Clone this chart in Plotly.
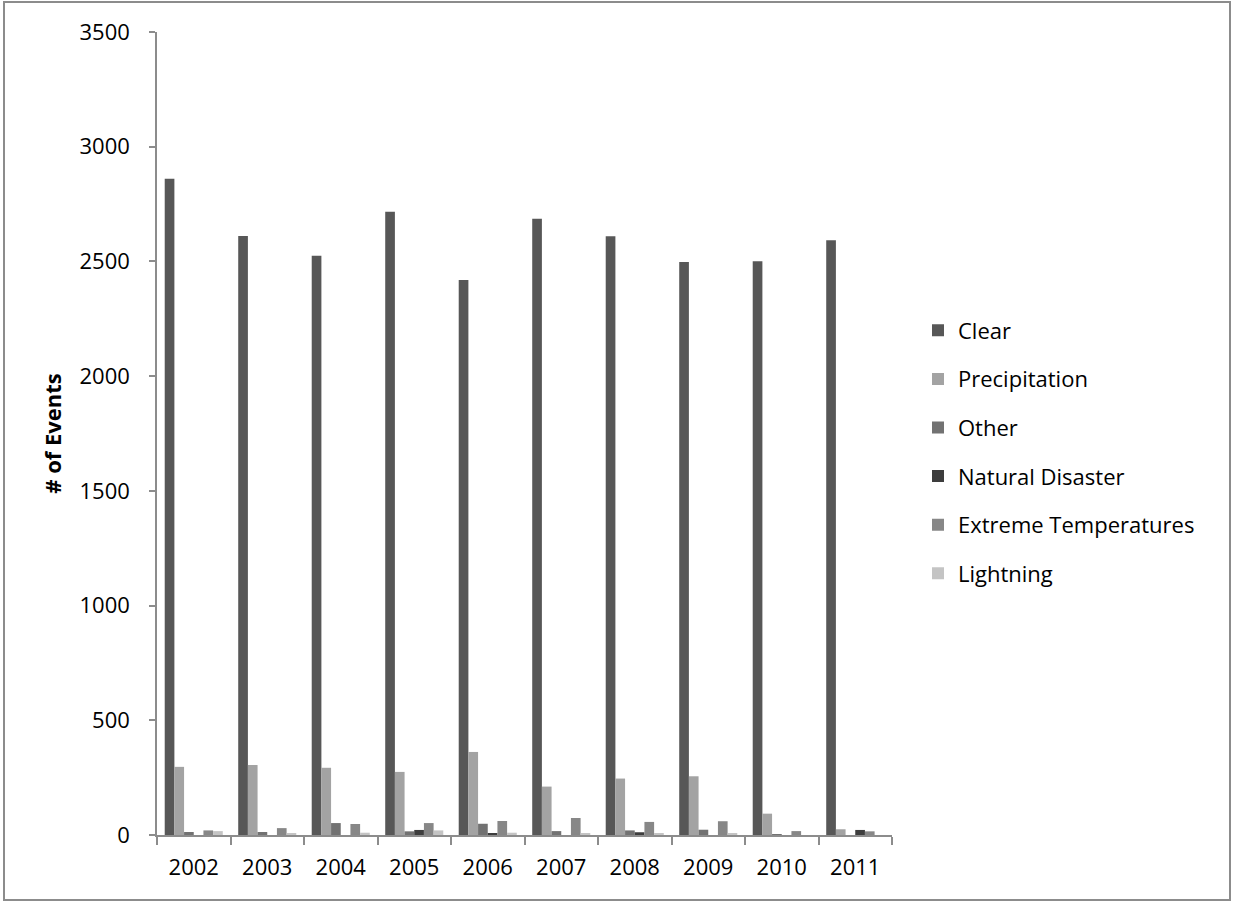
import plotly.graph_objects as go

years = ["2002", "2003", "2004", "2005", "2006", "2007", "2008", "2009", "2010", "2011"]

clear = [2860, 2611, 2525, 2717, 2419, 2686, 2610, 2497, 2501, 2592]
precipitation = [297, 305, 293, 275, 362, 211, 246, 256, 93, 25]
other = [13, 13, 52, 16, 49, 17, 20, 23, 2, 0]
natural_disaster = [0, 0, 0, 22, 7, 0, 12, 0, 0, 22]
extreme_temperatures = [20, 30, 48, 52, 61, 74, 57, 60, 17, 16]
lightning = [17, 7, 10, 20, 10, 8, 6, 6, 0, 0]

series = [
    ("Clear", clear, "#575757"),
    ("Precipitation", precipitation, "#a3a3a3"),
    ("Other", other, "#727272"),
    ("Natural Disaster", natural_disaster, "#3d3d3d"),
    ("Extreme Temperatures", extreme_temperatures, "#878787"),
    ("Lightning", lightning, "#c4c4c4"),
]

FONT = "Open Sans, Calibri, sans-serif"
FS = 22

fig = go.Figure()
for i, (name, vals, color) in enumerate(series):
    fig.add_trace(go.Bar(
        x=years, y=vals, name=name, legendgroup=str(i),
        marker=dict(color=color, line=dict(width=0)),
    ))

W, H = 1235, 902
L, R, T, B = 157, 892, 32, 835

fig.update_layout(
    width=W, height=H,
    margin=dict(l=L, r=W - R, t=T, b=H - B),
    paper_bgcolor="white", plot_bgcolor="white",
    barmode="group", bargap=0.21, bargroupgap=0,
    font=dict(family=FONT, size=FS, color="#000000"),
    showlegend=True,
    legend=dict(
        x=(918 - L) / (R - L), y=(B - 452) / (B - T),
        xanchor="left", yanchor="middle",
        font=dict(family=FONT, size=FS, color="#000000"),
        traceorder="grouped", tracegroupgap=17,
        bgcolor="rgba(0,0,0,0)",
    ),
    xaxis=dict(
        type="category", showgrid=False, showline=True,
        linecolor="#8c8c8c", linewidth=1.5,
        ticks="outside", tickson="boundaries", ticklen=8,
        tickcolor="#8c8c8c", tickwidth=1.5,
        ticklabelstandoff=12,
        tickfont=dict(family=FONT, size=FS),
    ),
    yaxis=dict(
        range=[0, 3500], tickvals=[0, 500, 1000, 1500, 2000, 2500, 3000, 3500],
        showgrid=False, showline=True, zeroline=False,
        linecolor="#8c8c8c", linewidth=1.5,
        ticks="outside", ticklen=6, tickcolor="#8c8c8c", tickwidth=1.5,
        ticklabelstandoff=15,
        tickfont=dict(family=FONT, size=FS),
        title=dict(text="<b># of Events</b>", font=dict(family=FONT, size=FS), standoff=12),
    ),
    shapes=[dict(
        type="rect", xref="paper", yref="paper",
        x0=(4 - L) / (R - L), x1=(1230 - L) / (R - L),
        y0=(B - 900) / (B - T), y1=(B - 2) / (B - T),
        line=dict(color="#8c8c8c", width=2), fillcolor="rgba(0,0,0,0)",
        layer="below",
    )],
)

fig.write_html("out.html")
